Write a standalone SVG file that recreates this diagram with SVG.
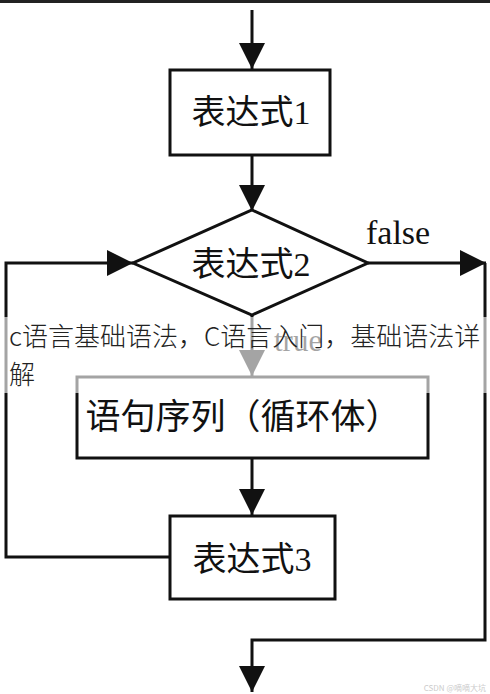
<svg xmlns="http://www.w3.org/2000/svg" width="490" height="694" viewBox="0 0 490 694">
<style>
.box{fill:#fff;stroke:#111;stroke-width:3}
.ln{fill:none;stroke:#111;stroke-width:3}
.lbl{font-family:"Liberation Serif","Noto Sans CJK SC",serif;font-size:34px;fill:#111}
.cap{font-family:"Noto Sans CJK SC","Noto Sans",sans-serif;font-size:26px;font-weight:300;fill:#222}
</style>
<defs>
<marker id="ah" viewBox="0 0 26 26" refX="26" refY="13" markerWidth="26" markerHeight="26" markerUnits="userSpaceOnUse" orient="auto">
<path d="M0,0 L26,13 L0,26 Z" fill="#111"/>
</marker>
</defs>
<rect width="490" height="694" fill="#fff"/>
<rect x="0" y="0" width="490" height="3" fill="#222"/>
<g id="connectors">
<line class="ln" x1="252" y1="10" x2="252" y2="69" marker-end="url(#ah)"/>
<line class="ln" x1="252" y1="155" x2="252" y2="211" marker-end="url(#ah)"/>
<line class="ln" x1="252" y1="315" x2="252" y2="376" marker-end="url(#ah)"/>
<line class="ln" x1="252" y1="458" x2="252" y2="515" marker-end="url(#ah)"/>
<polyline class="ln" points="170,557 6,557 6,263 133,263" marker-end="url(#ah)"/>
<line class="ln" x1="368" y1="263" x2="486" y2="263" marker-end="url(#ah)"/>
<polyline class="ln" points="485,263 485,640 252,640 252,692" marker-end="url(#ah)"/>
<text x="366" y="244" class="lbl" style="font-size:34px">false</text>
<text x="274" y="351" class="lbl" style="font-size:31px">true</text>
</g>
<g id="expr1">
<rect class="box" x="170" y="70" width="160" height="85"/>
<text class="lbl" x="251" y="124" text-anchor="middle">表达式1</text>
</g>
<g id="expr2">
<polygon class="box" points="252,210 368,263 252,315 133,263"/>
<text class="lbl" x="251" y="276" text-anchor="middle">表达式2</text>
</g>
<g id="body">
<rect class="box" x="77" y="377" width="351" height="81"/>
<text class="lbl" x="243" y="429" text-anchor="middle" style="font-size:35px">语句序列（循环体）</text>
</g>
<g id="expr3">
<rect class="box" x="170" y="516" width="165" height="83"/>
<text class="lbl" x="252" y="571" text-anchor="middle">表达式3</text>
</g>
<rect x="0" y="317" width="490" height="76" fill="#fff" fill-opacity="0.62"/>
<text class="cap" x="9" y="346">c语言基础语法，C语言入门，基础语法详</text>
<text class="cap" x="9" y="384">解</text>
<text x="486" y="691" text-anchor="end" style="font-family:'Noto Sans CJK SC','Noto Sans',sans-serif;font-size:8px;fill:#ccc">CSDN @嘀嘀大坑</text>
</svg>
